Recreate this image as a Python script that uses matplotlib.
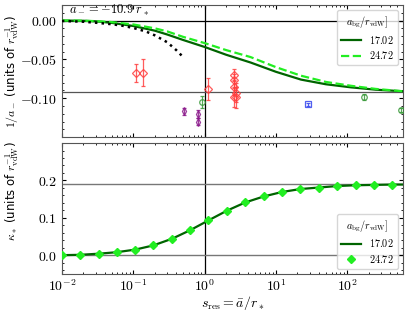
import numpy as np
import matplotlib
matplotlib.use("Agg")
import matplotlib.pyplot as plt
from matplotlib.ticker import FuncFormatter, LogLocator

plt.rcParams['mathtext.fontset'] = 'cm'

# ---- dane ----
# panel górny: 1/a_-
s_curve = [0.01, 0.02, 0.03, 0.05, 0.1, 0.2, 0.3, 0.5, 1.0, 2.0, 4.4, 10, 22.4, 50, 113, 250, 600]
inv_a_1702 = [0.0, -0.0003, -0.001, -0.003, -0.007, -0.013, -0.018, -0.025, -0.034, -0.044,
              -0.054, -0.066, -0.076, -0.082, -0.086, -0.089, -0.091]
inv_a_2472 = [0.0, -0.0002, -0.0008, -0.002, -0.005, -0.010, -0.014, -0.021, -0.029, -0.038,
              -0.047, -0.060, -0.071, -0.079, -0.084, -0.088, -0.091]

s_dot = [0.01, 0.02, 0.03, 0.05, 0.07, 0.1, 0.15, 0.2, 0.3, 0.4, 0.5]
inv_a_dot = [-0.0005, -0.0015, -0.0028, -0.0047, -0.0066, -0.0095, -0.014, -0.019, -0.028, -0.038, -0.047]

red_s = [0.11, 0.138, 1.1, 2.55, 2.55, 2.55, 2.55, 2.75, 2.75]
red_v = [-0.0675, -0.067, -0.088, -0.070, -0.077, -0.086, -0.099, -0.093, -0.099]
red_e = [0.011, 0.017, 0.014, 0.008, 0.008, 0.010, 0.012, 0.012, 0.013]

purple_s = [0.506, 0.805, 0.805]
purple_v = [-0.117, -0.120, -0.130]
purple_e = [0.004, 0.005, 0.005]

green_s = [0.91, 172, 565]
green_v = [-0.105, -0.098, -0.115]
green_e = [0.008, 0.004, 0.003]

blue_s = [28.5]
blue_v = [-0.108]
blue_e = [0.002]

a_bg_limit = -0.092

# panel dolny: kappa_*
s_kappa = [0.01, 0.018, 0.033, 0.059, 0.107, 0.19, 0.35, 0.63, 1.13, 2.05, 3.7, 6.7,
           12.1, 22, 40, 72, 130, 235, 425, 600]
kappa_1702 = [0.000, 0.001, 0.004, 0.008, 0.015, 0.026, 0.044, 0.067, 0.093, 0.119, 0.141,
              0.157, 0.169, 0.177, 0.181, 0.185, 0.187, 0.188, 0.189, 0.189]
kappa_2472 = kappa_1702[:19]
kappa_limit = 0.19

legend_labels = ['$17.02$', '$24.72$']
legend_title = r'$a_{\rm bg}/r_{\rm vdW}]$'

# ---- rysunek ----
fig = plt.figure(figsize=(4.07, 3.13), dpi=100)
ax1 = fig.add_axes([0.152, 0.562, 0.838, 0.422])
ax2 = fig.add_axes([0.152, 0.125, 0.838, 0.418])

for ax in (ax1, ax2):
    ax.set_xscale('log')
    ax.set_xlim(0.01, 600)
    ax.axvline(1.0, color='black', lw=0.9, zorder=1)
    ax.tick_params(which='both', direction='in', top=True, right=True, labelsize=10)
    ax.tick_params(which='major', length=3)
    ax.tick_params(which='minor', length=1.5)
    ax.xaxis.set_minor_locator(LogLocator(base=10, subs=np.arange(2, 10), numticks=20))
    for sp in ax.spines.values():
        sp.set_color('#555555')

# górny
ax1.axhline(0.0, color='black', lw=0.9, zorder=1)
ax1.axhline(a_bg_limit, color='#555555', lw=0.9, zorder=1)
ax1.plot(s_curve, inv_a_1702, color='#006400', lw=1.6, label=legend_labels[0], zorder=3)
ax1.plot(s_curve, inv_a_2472, color='#22ee22', lw=1.6, ls='--', label=legend_labels[1], zorder=3)
ax1.plot(s_dot, inv_a_dot, color='black', ls=':', lw=1.8, zorder=3)

ax1.errorbar(red_s, red_v, yerr=red_e, fmt='D', mfc='none', mec='#ff4040', ecolor='#ff4040',
             ms=4, mew=0.9, elinewidth=0.9, capsize=1.5, alpha=0.85, zorder=4)
ax1.errorbar(purple_s, purple_v, yerr=purple_e, fmt='d', mfc='none', mec='#8b1a8b', ecolor='#8b1a8b',
             ms=4, mew=0.9, elinewidth=0.9, capsize=1.5, alpha=0.85, zorder=4)
ax1.errorbar(green_s, green_v, yerr=green_e, fmt='o', mfc='none', mec='#3a9a3a', ecolor='#3a9a3a',
             ms=4, mew=0.9, elinewidth=0.9, capsize=1.5, alpha=0.85, zorder=4)
ax1.errorbar(blue_s, blue_v, yerr=blue_e, fmt='s', mfc='none', mec='#3344ee', ecolor='#3344ee',
             ms=4, mew=0.9, elinewidth=0.9, capsize=1.5, alpha=0.85, zorder=4)

ax1.set_ylim(-0.15, 0.02)
ax1.set_yticks([0.0, -0.05, -0.10])
ax1.yaxis.set_major_formatter(FuncFormatter(lambda v, p: f'${v:.2f}$'))
ax1.set_yticks(np.arange(-0.14, 0.02, 0.01), minor=True)
ax1.tick_params(axis='x', labelbottom=False)
ax1.set_ylabel(r'$1/a_-$ (units of $r_{\rm vdW}^{-1}$)', fontsize=8.5)
ax1.yaxis.set_label_coords(-0.118, 0.5)
ax1.text(0.022, 0.935, r'$a_- = -10.9\ r_*$', transform=ax1.transAxes, fontsize=9,
         va='baseline', ha='left')
leg1 = ax1.legend(loc='upper right', title=legend_title, fontsize=7.3, title_fontsize=7.3,
                  handlelength=2.0, borderaxespad=0.5, labelspacing=0.35, borderpad=0.4)
leg1.get_frame().set_edgecolor('#cccccc')

# dolny
ax2.axhline(0.0, color='#777777', lw=1.0, zorder=1)
ax2.axhline(kappa_limit, color='#777777', lw=1.0, zorder=1)
ax2.plot(s_kappa, kappa_1702, color='#006400', lw=1.6, label=legend_labels[0], zorder=3)
ax2.plot(s_kappa[:19], kappa_2472, ls='none', marker='D', ms=4, color='#22ee22',
         label=legend_labels[1], zorder=4)
ax2.set_ylim(-0.05, 0.30)
ax2.set_yticks([0.0, 0.1, 0.2])
ax2.yaxis.set_major_formatter(FuncFormatter(lambda v, p: f'${v:.1f}$'))
ax2.set_yticks(np.arange(-0.04, 0.30, 0.02), minor=True)
ax2.set_xticks([0.01, 0.1, 1, 10, 100])
ax2.set_xticklabels([r'$10^{-2}$', r'$10^{-1}$', r'$10^{0}$', r'$10^{1}$', r'$10^{2}$'])
ax2.set_ylabel(r'$\kappa_*$ (units of $r_{\rm vdW}^{-1}$)', fontsize=8.5)
ax2.yaxis.set_label_coords(-0.118, 0.63)
ax2.set_xlabel(r'$s_{\rm res} = \bar{a}/r_*$', fontsize=10, labelpad=0)
leg2 = ax2.legend(loc='lower right', title=legend_title, fontsize=7.3, title_fontsize=7.3,
                  handlelength=2.0, borderaxespad=0.5, labelspacing=0.35, borderpad=0.4)
leg2.get_frame().set_edgecolor('#cccccc')

fig.savefig('out.png', dpi=100)
